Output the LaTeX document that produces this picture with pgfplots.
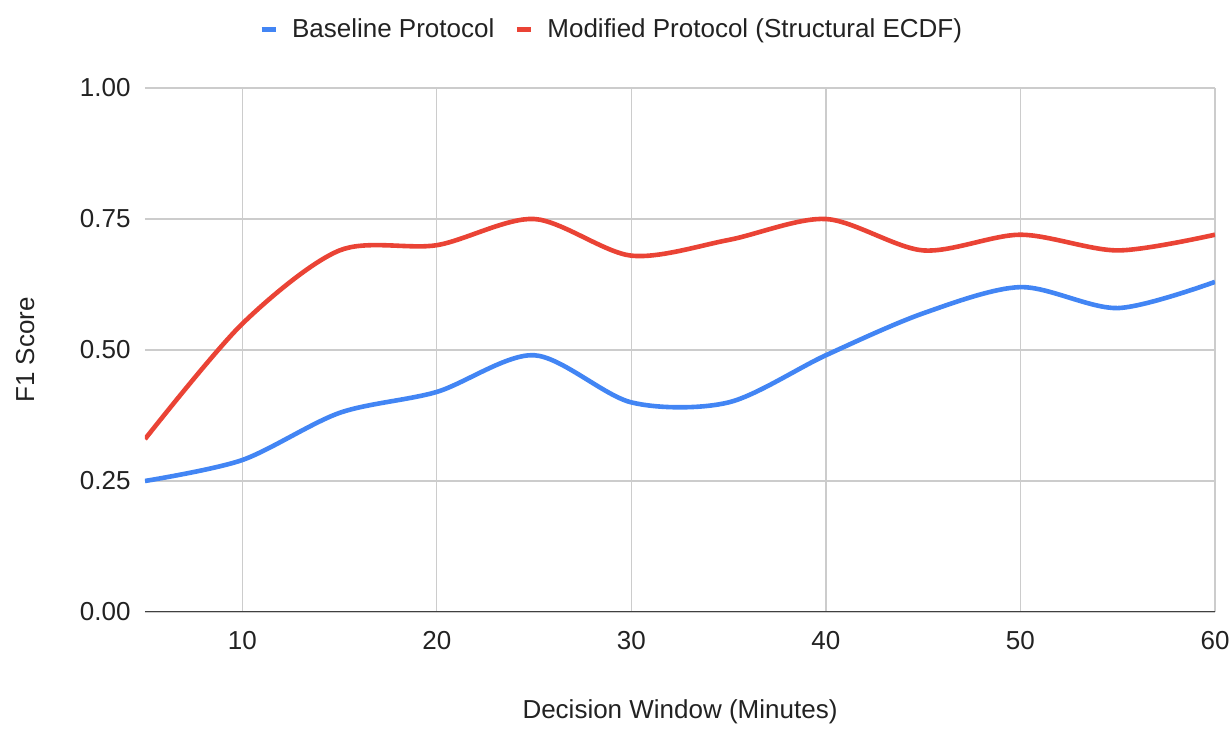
\documentclass[border=0pt]{standalone}
\usepackage{pgfplots}
\pgfplotsset{compat=1.18}
\usepackage{fontspec}
\setmainfont{Liberation Sans}
\definecolor{gblue}{HTML}{4285F4}
\definecolor{gred}{HTML}{EA4335}
\definecolor{txt}{HTML}{222222}
\pgfplotstableread{
x y
5 0.25
10 0.29
15 0.38
20 0.42
25 0.49
30 0.40
35 0.40
40 0.49
45 0.57
50 0.62
55 0.58
60 0.63
}\baseline
\pgfplotstableread{
x y
5 0.33
10 0.55
15 0.69
20 0.70
25 0.75
30 0.68
35 0.71
40 0.75
45 0.69
50 0.72
55 0.69
60 0.72
}\modified
\begin{document}
\begin{tikzpicture}
\begin{axis}[
  at={(0,0)}, anchor=south west,
  scale only axis, width=535pt, height=262pt,
  xmin=5, xmax=60, ymin=0, ymax=1,
  xtick={10,20,30,40,50,60},
  ytick={0,0.25,0.5,0.75,1},
  yticklabel style={/pgf/number format/fixed, /pgf/number format/zerofill, /pgf/number format/precision=2},
  /pgf/number format/assume math mode=true,
  grid=major,
  major grid style={color=black!20, line width=0.6pt},
  axis line style={draw=none},
  major tick length=0pt,
  tick label style={font=\fontsize{13pt}{15pt}\selectfont, text=txt, inner sep=0pt},
  xticklabel style={anchor=north, yshift=-9.5pt},
  yticklabel style={anchor=east, xshift=-7pt},
  label style={font=\fontsize{13pt}{15pt}\selectfont, text=txt},
  xlabel={Decision Window (Minutes)},
  ylabel={F1 Score},
  xlabel style={at={(axis description cs:0.5,-0.191)}, anchor=center},
  ylabel style={at={(axis description cs:-0.112,0.5)}, anchor=center, rotate=0},
  legend columns=2,
  legend style={draw=none, fill=none, at={(axis description cs:0.437,1.111)}, anchor=center,
    font=\fontsize{13pt}{15pt}\selectfont, text=txt,
    /tikz/every odd column/.append style={column sep=5pt},
    /tikz/every even column/.append style={column sep=8pt}},
  legend image code/.code={\draw[line width=2.5pt] (0pt,0pt) -- (7pt,0pt);},
]
\coordinate (SW) at (rel axis cs:0,0);
\coordinate (NE) at (rel axis cs:1,1);
\draw[color=black!75, line width=0.6pt] (axis cs:5,0) -- (axis cs:60,0);
\addplot[color=gblue, line width=2.3pt, smooth, tension=0.5, no marks] table {\baseline};
\addlegendentry{Baseline Protocol}
\addplot[color=gred, line width=2.3pt, smooth, tension=0.5, no marks] table {\modified};
\addlegendentry{Modified Protocol (Structural ECDF)}
\end{axis}
\path (SW) ++(-72.5pt,-57.5pt) coordinate (BL);
\path (NE) ++(8pt,44pt) coordinate (TR);
\path (BL) rectangle (TR);
\end{tikzpicture}
\end{document}
